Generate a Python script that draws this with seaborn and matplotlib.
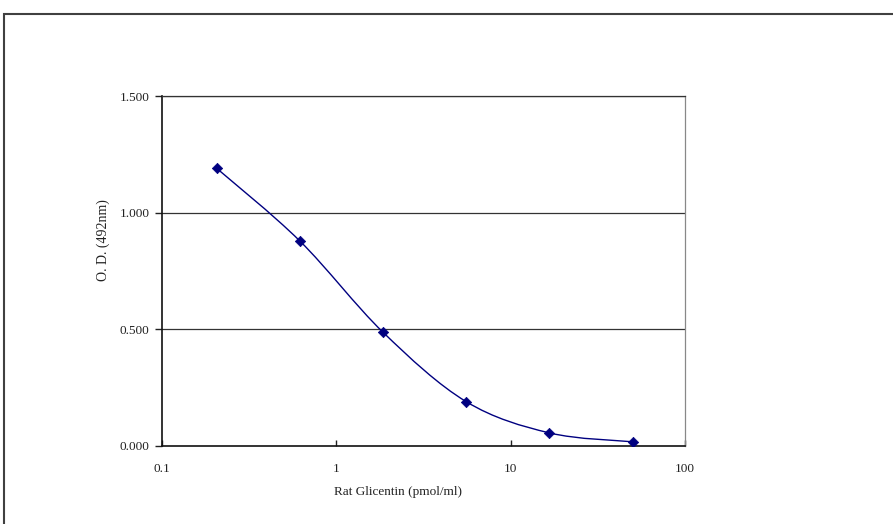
import numpy as np
import pandas as pd
import matplotlib
matplotlib.use("Agg")
import matplotlib.pyplot as plt
from matplotlib.path import Path
from matplotlib.patches import PathPatch, Rectangle
import seaborn as sns

# data
concentration = [0.206, 0.617, 1.85, 5.56, 16.7, 50.0]
od_492 = [1.190, 0.879, 0.488, 0.190, 0.056, 0.018]
x_ticks = [0.1, 1, 10, 100]
x_tick_labels = ["0.1", "1", "10", "100"]
y_ticks = [0.0, 0.5, 1.0, 1.5]
y_tick_labels = ["0.000", "0.500", "1.000", "1.500"]

df = pd.DataFrame({"conc": concentration, "od": od_492})

sns.set_theme(style="white")
plt.rcParams["font.family"] = ["Liberation Serif", "DejaVu Serif"]

W, H = 893, 524
fig = plt.figure(figsize=(W / 100, H / 100), dpi=100)
ax = fig.add_axes([162 / W, 1 - 446 / H, (685 - 162) / W, (446 - 96) / H])

ax.set_xscale("log")
ax.set_xlim(0.1, 100)
ax.set_ylim(0, 1.5)

# gridlines
for yv in y_ticks[1:]:
    ax.axhline(yv, color="#333333", lw=0.9, zorder=1)

# smooth line (Excel-style Bezier through the points, computed in display space)
fig.canvas.draw()
pts = ax.transData.transform(np.column_stack([df["conc"], df["od"]]))
n = len(pts)
verts = [pts[0]]
codes = [Path.MOVETO]
for i in range(n - 1):
    p0 = pts[i - 1] if i > 0 else pts[i]
    p1 = pts[i]
    p2 = pts[i + 1]
    p3 = pts[i + 2] if i + 2 < n else pts[i + 1]
    c1 = p1 + (p2 - p0) / 6.0
    c2 = p2 - (p3 - p1) / 6.0
    verts += [c1, c2, p2]
    codes += [Path.CURVE4] * 3
verts_data = ax.transData.inverted().transform(np.array(verts))
patch = PathPatch(Path(verts_data, codes), facecolor="none", edgecolor="#000080", lw=1.0, zorder=3)
ax.add_patch(patch)

sns.scatterplot(data=df, x="conc", y="od", marker="D", s=28, color="#000080",
                edgecolor="#000080", linewidth=0.5, ax=ax, zorder=4, legend=False)

ax.set_xticks(x_ticks)
ax.set_xticklabels(x_tick_labels)
ax.xaxis.set_minor_locator(matplotlib.ticker.NullLocator())
ax.set_yticks(y_ticks)
ax.set_yticklabels(y_tick_labels)

ax.tick_params(axis="x", direction="in", length=4, width=1, color="#222222",
               labelsize=9.5, pad=12, labelcolor="#222222")
ax.tick_params(axis="y", direction="out", length=5, width=1, color="#222222",
               labelsize=9.5, pad=4, labelcolor="#222222")
ax.tick_params(left=True, bottom=True)

for side in ["left", "bottom"]:
    ax.spines[side].set_color("#111111")
    ax.spines[side].set_linewidth(1.2)
ax.spines["top"].set_color("#333333")
ax.spines["top"].set_linewidth(0.9)
ax.spines["right"].set_color("#888888")
ax.spines["right"].set_linewidth(0.9)

ax.set_xlabel("Rat Glicentin (pmol/ml)", fontsize=9.5, color="#222222")
ax.set_ylabel("O. D. (492nm)", fontsize=10, color="#222222")
ax.xaxis.set_label_coords((398 - 162) / 523, (446 - 486) / 350)
ax.yaxis.set_label_coords((110 - 162) / 523, (446 - 240) / 350)

# outer chart border
fig.patches.append(Rectangle((4 / W, -0.1), 1.2, 1 - 14 / H + 0.1, transform=fig.transFigure,
                             fill=False, edgecolor="#404040", lw=1.5))

fig.savefig("out.png", dpi=100)
